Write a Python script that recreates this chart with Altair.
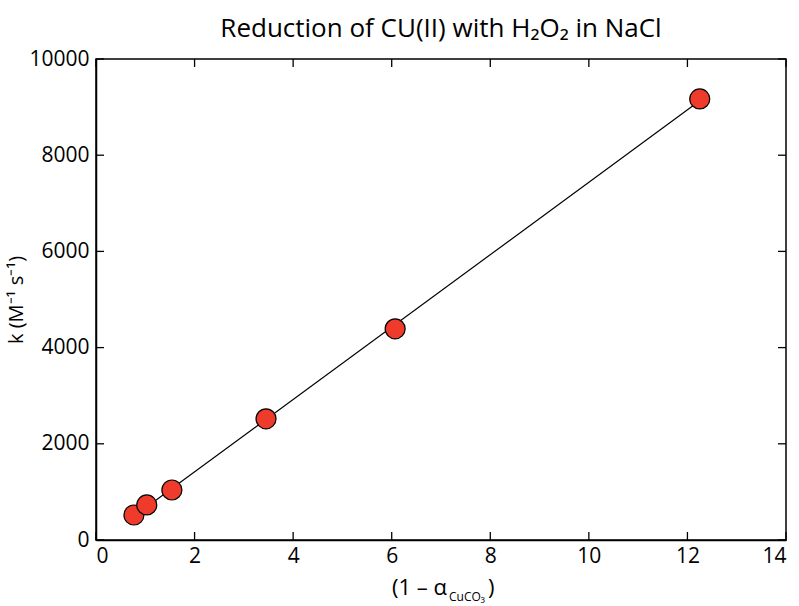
import altair as alt
import pandas as pd

# data
x_vals = [0.77, 1.03, 1.54, 3.45, 6.07, 12.25]
k_vals = [520, 730, 1040, 2520, 4390, 9170]
x_ticks = [0, 2, 4, 6, 8, 10, 12, 14]
y_ticks = [0, 2000, 4000, 6000, 8000, 10000]

W, H = 690, 481
FONT = "Open Sans"

pts = pd.DataFrame({"x": x_vals, "k": k_vals})
xt = pd.DataFrame({"x": x_ticks})
yt = pd.DataFrame({"k": y_ticks})

xs = alt.Scale(domain=[0, 14], nice=False, zero=False)
ys = alt.Scale(domain=[0, 10000], nice=False, zero=False)

x_axis = alt.Axis(values=x_ticks, ticks=False, grid=False, domainColor="black",
                  domainWidth=1.5, labelFont=FONT, labelFontSize=21,
                  labelColor="black", labelPadding=5, title="", format="d")
y_axis = alt.Axis(values=y_ticks, ticks=False, grid=False, domainColor="black",
                  domainWidth=1.5, labelFont=FONT, labelFontSize=21,
                  labelColor="black", labelPadding=7, format="d",
                  title="k (M⁻¹ s⁻¹)", titleFont=FONT, titleFontSize=20,
                  titleFontWeight="normal", titleColor="black", titlePadding=2)

X = alt.X("x:Q", scale=xs, axis=x_axis)
Y = alt.Y("k:Q", scale=ys, axis=y_axis)

base = alt.Chart(pts)

line = base.transform_regression("x", "k").mark_line(color="black", strokeWidth=1.2).encode(x=X, y=Y)

points = base.mark_circle(size=400, color="#EE3B2B", opacity=1, stroke="black",
                          strokeWidth=1.2).encode(x=X, y=Y)

tick_style = dict(color="black", strokeWidth=1.3)
tb = alt.Chart(xt).mark_rule(**tick_style).encode(x=X, y=alt.value(H), y2=alt.value(H - 8))
tt = alt.Chart(xt).mark_rule(**tick_style).encode(x=X, y=alt.value(0), y2=alt.value(8))
tl = alt.Chart(yt).mark_rule(**tick_style).encode(y=Y, x=alt.value(0), x2=alt.value(8))
tr = alt.Chart(yt).mark_rule(**tick_style).encode(y=Y, x=alt.value(W), x2=alt.value(W - 8))

# x-axis title with subscript
one = alt.Chart(pd.DataFrame({"a": [0]}))
xt1 = one.mark_text(text="(1 – α", font=FONT, fontSize=22, align="right",
                    baseline="alphabetic", color="black").encode(x=alt.value(351), y=alt.value(536))
xt2 = one.mark_text(text="CuCO₃", font=FONT, fontSize=12, align="left",
                    baseline="alphabetic", color="black").encode(x=alt.value(353), y=alt.value(542))
xt3 = one.mark_text(text=")", font=FONT, fontSize=22, align="left",
                    baseline="alphabetic", color="black").encode(x=alt.value(392), y=alt.value(536))

chart = alt.layer(tb, tt, tl, tr, line, points, xt1, xt2, xt3).properties(
    width=W, height=H,
    title=alt.TitleParams("Reduction of CU(II) with H₂O₂ in NaCl", font=FONT, fontSize=26,
                          fontWeight="normal", color="black", anchor="middle", offset=0,
                          dy=15, baseline="alphabetic"),
    autosize=alt.AutoSizeParams(type="none"),
    padding={"left": 96, "top": 59, "right": 13, "bottom": 66},
    background="white",
).configure_view(stroke="black", strokeWidth=1.5)

chart.save("out.html", embed_options={"renderer": "svg", "actions": False})
